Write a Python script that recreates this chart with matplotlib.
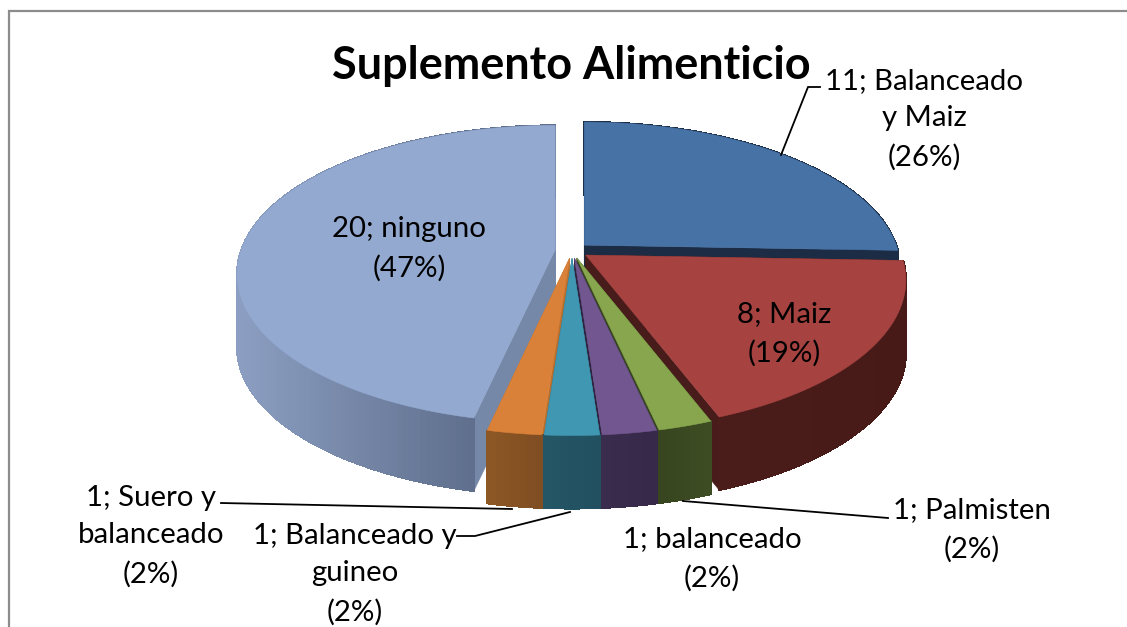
import numpy as np
import matplotlib
matplotlib.use("Agg")
import matplotlib.pyplot as plt
from matplotlib.colors import to_rgb

plt.rcParams['font.family'] = ['Lato', 'DejaVu Sans']

# data
title = "Suplemento Alimenticio"
categories = ["Balanceado y Maiz", "Maiz", "Palmisten", "balanceado",
              "Balanceado y guineo", "Suero y balanceado", "ninguno"]
values = [11, 8, 1, 1, 1, 1, 20]
percents = ["26%", "19%", "2%", "2%", "2%", "2%", "47%"]
label_texts = ["11; Balanceado\ny Maiz\n(26%)", "8; Maiz\n(19%)", "1; Palmisten\n(2%)",
               "1; balanceado\n(2%)", "1; Balanceado y\nguineo\n(2%)",
               "1; Suero y\nbalanceado\n(2%)", "20; ninguno\n(47%)"]
label_pos = [(924, 119), (784, 334), (972, 530), (712, 559), (355, 574), (151, 536), (409, 249)]
leaders = [[(820, 87), (808, 87), (781, 155)], None, [(888, 518), (683, 501)], None,
           [(457, 536), (475, 536), (570, 512)], [(221, 503), (512, 509)], None]

top_colors = ["#4672A6", "#A64341", "#88A64D", "#71568F", "#4097B1", "#DA8139", "#93A9D0"]
wall_left = ["#1B2C44", "#4A1C1A", "#36451F", "#3A2C4D", "#255766", "#8F5826", "#8C9FC2"]
wall_right = ["#1B2C44", "#471A18", "#3D4C22", "#37294A", "#225060", "#7F4E22", "#5F6F8D"]
face_colors = ["#1B2C44", "#471C1A", "#36451F", "#2E2340", "#2A6578", "#B9702F", "#7688A8"]

# projection settings
cx, cy = 572, 250.5
R, a, k = 314, 145, 0.165
explode = 0.054
depth = 73


def project(ou, ov, u, v, z=0):
    s = 1 / (1 + k * (v + ov))
    return cx + R * (ou + u * s), cy - a * (v + ov) * s + z


fig = plt.figure(figsize=(11.27, 6.27), dpi=100)
ax = fig.add_axes([0, 0, 1, 1])
ax.set_xlim(0, 1127)
ax.set_ylim(627, 0)
ax.axis("off")

# chart frame
ax.plot([8.5, 8.5, 1127], [627, 10.5, 10.5], color="#8C8C8C", lw=1.6, solid_joinstyle="miter")

total = sum(values)
edges = np.concatenate([[0], np.cumsum(values)]) / total * 2 * np.pi
mids = (edges[:-1] + edges[1:]) / 2
order = sorted(range(len(values)), key=lambda i: -np.cos(mids[i]))


def poly(pts, color):
    xs, ys = zip(*pts)
    ax.fill(xs, ys, facecolor=color, edgecolor=color, lw=0.4, zorder=2)


for i in order:
    ou, ov = explode * np.sin(mids[i]), explode * np.cos(mids[i])
    ts = np.linspace(edges[i], edges[i + 1], max(3, int(np.degrees(edges[i + 1] - edges[i]))))
    apex = project(ou, ov, 0, 0)
    apex_low = project(ou, ov, 0, 0, depth)
    arc = [project(ou, ov, np.sin(t), np.cos(t)) for t in ts]
    low = [project(ou, ov, np.sin(t), np.cos(t), depth) for t in ts]
    # cut faces
    for j in (0, -1):
        poly([apex, arc[j], low[j], apex_low], face_colors[i])
    # outer wall: smooth base, then a shading run without anti-aliased seams
    x0 = min(p[0] for p in arc)
    x1 = max(p[0] for p in arc)
    c0, c1 = np.array(to_rgb(wall_left[i])), np.array(to_rgb(wall_right[i]))
    if i == len(values) - 1:
        x1 = arc[0][0]
    poly(arc + low[::-1], tuple((c0 + c1) / 2))
    for j in range(len(arc) - 1):
        f = np.clip((arc[j][0] - x0) / max(x1 - x0, 1), 0, 1)
        color = tuple(c0 + (c1 - c0) * f)
        q = [arc[j], arc[j + 1], low[j + 1], low[j]]
        xs, ys = zip(*q)
        ax.fill(xs, ys, facecolor=color, edgecolor=color, lw=0.8, antialiased=False, zorder=2)
    # top surface
    xs, ys = zip(*([apex] + arc))
    ax.fill(xs, ys, facecolor=top_colors[i], edgecolor=top_colors[i], lw=0.4, zorder=2)

# leader lines
for line in leaders:
    if line:
        xs, ys = zip(*line)
        ax.plot(xs, ys, color="black", lw=1.3, zorder=5, solid_joinstyle="miter")

# labels
for text, (x, y) in zip(label_texts, label_pos):
    ax.text(x, y, text, ha="center", va="center", fontsize=21.2, color="black",
            linespacing=1.56, zorder=6)

ax.text(571, 66, title, ha="center", va="center", fontsize=32.4, fontweight="bold",
        color="black", zorder=6)

fig.savefig("out.png", dpi=100, facecolor="white")
